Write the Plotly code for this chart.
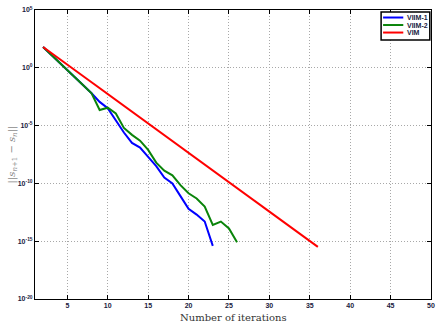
import plotly.graph_objects as go

# iteration counts
it_viim1 = list(range(2, 24))
it_viim2 = list(range(2, 27))
it_vim = list(range(2, 37))

# log10 of ||s_{n+1} - s_n||
viim1_log = [1.8, 1.15, 0.47, -0.2, -0.87, -1.53, -2.2, -2.95, -3.5, -4.6, -5.6,
             -6.5, -6.9, -7.7, -8.5, -9.5, -10.0, -11.1, -12.2, -12.7, -13.3, -15.4]
viim2_log = [1.8, 1.15, 0.47, -0.2, -0.87, -1.53, -2.2, -3.65, -3.45, -3.95, -5.2,
             -5.8, -6.3, -7.1, -8.2, -8.9, -9.3, -10.15, -10.85, -11.3, -12.0,
             -13.6, -13.3, -13.9, -15.1]
vim_log = [1.8, 1.29, 0.78, 0.27, -0.24, -0.74, -1.25, -1.76, -2.27, -2.78, -3.29,
           -3.8, -4.3, -4.81, -5.32, -5.83, -6.34, -6.85, -7.36, -7.86, -8.37,
           -8.88, -9.39, -9.9, -10.41, -10.92, -11.42, -11.93, -12.44, -12.95,
           -13.46, -13.97, -14.48, -14.98, -15.49]

x_ticks = [5, 10, 15, 20, 25, 30, 35, 40, 45, 50]
y_ticks = [1e5, 1e0, 1e-5, 1e-10, 1e-15, 1e-20]
y_ticktext = ["10<sup>5</sup>", "10<sup>0</sup>", "10<sup>-5</sup>",
              "10<sup>-10</sup>", "10<sup>-15</sup>", "10<sup>-20</sup>"]

names = ["VIIM-1", "VIIM-2", "VIM"]
colors = ["#0000ff", "#0a840a", "#ff0000"]

fig = go.Figure()

for xs, ys, name, col in zip([it_viim1, it_viim2, it_vim],
                             [viim1_log, viim2_log, vim_log], names, colors):
    fig.add_trace(go.Scatter(x=xs, y=[10 ** v for v in ys],
                             mode="lines", name=name,
                             line=dict(color=col, width=2)))

tick_font = dict(family="Liberation Sans", size=7, color="#1a1a40")

# small matlab-style legend box, drawn by hand (plotly's is too tall here)
shapes = [dict(type="rect", xref="paper", yref="paper",
               x0=0.874, x1=0.997, y0=0.896, y1=0.993,
               fillcolor="white", line=dict(color="black", width=1.5))]
annotations = []
for i, (name, col) in enumerate(zip(names, colors)):
    yy = 0.974 - i * 0.026
    shapes.append(dict(type="line", xref="paper", yref="paper",
                       x0=0.879, x1=0.930, y0=yy, y1=yy,
                       line=dict(color=col, width=2)))
    annotations.append(dict(text="<b>%s</b>" % name, xref="paper", yref="paper",
                            x=0.934, y=yy, xanchor="left", yanchor="middle",
                            showarrow=False,
                            font=dict(family="Liberation Sans", size=7,
                                      color="#1a1a40")))

annotations.append(dict(text="Number of iterations", xref="paper", yref="paper",
                        x=0.5, y=0, yshift=-11, xanchor="center", yanchor="top",
                        showarrow=False,
                        font=dict(family="DejaVu Serif", size=10, color="#333333")))
annotations.append(dict(text="||<i>s</i><sub><i>n</i>+1</sub> − <i>s</i><sub><i>n</i></sub>||",
                        xref="paper", yref="paper", x=0, xshift=-23, y=0.5,
                        xanchor="center", yanchor="middle", textangle=-90,
                        showarrow=False,
                        font=dict(family="DejaVu Serif", size=10, color="#888888")))

fig.update_layout(
    width=448, height=324,
    margin=dict(l=35, r=17, t=10, b=25),
    paper_bgcolor="white", plot_bgcolor="white",
    showlegend=False,
    shapes=shapes,
    annotations=annotations,
)

grid = dict(showgrid=True, gridcolor="#a8a8a8", griddash="1px,2px", gridwidth=1)

fig.update_xaxes(
    range=[1, 50], tickvals=x_ticks,
    ticktext=["<b>%d</b>" % t for t in x_ticks],
    tickfont=tick_font, ticks="inside", ticklen=4, tickcolor="black",
    showline=True, linecolor="black", linewidth=1, mirror="ticks",
    zeroline=False, automargin=False, **grid
)

fig.update_yaxes(
    type="log", range=[-20, 5], tickvals=y_ticks,
    ticktext=["<b>%s</b>" % t for t in y_ticktext],
    tickfont=tick_font, ticks="inside", ticklen=4, tickcolor="black",
    showline=True, linecolor="black", linewidth=1, mirror="ticks",
    zeroline=False, automargin=False, **grid
)

fig.write_html("out.html", config={"displayModeBar": False},
               post_script="document.body.style.margin='0';")
